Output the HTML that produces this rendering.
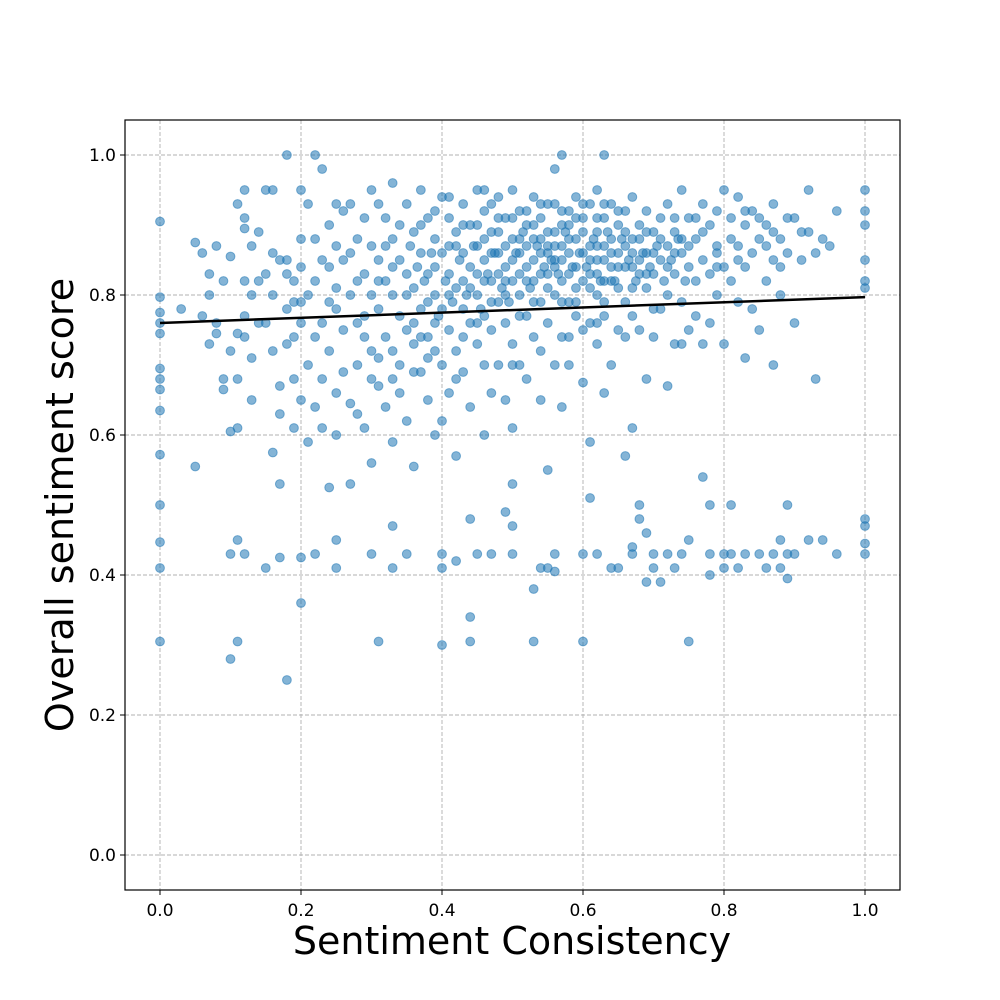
<!DOCTYPE html>
<html><head><meta charset="utf-8"><style>
html,body{margin:0;padding:0;background:#fff;}
svg{display:block;font-family:"DejaVu Sans","Liberation Sans",sans-serif;}
</style></head><body>
<svg id="chart" width="1000" height="1000" viewBox="0 0 1000 1000" xmlns="http://www.w3.org/2000/svg">
<rect width="1000" height="1000" fill="#fff"/>
<g id="grid"></g>
<g id="points"></g>
<g id="fit"></g>
<rect x="125" y="120" width="775" height="770" fill="none" stroke="#000" stroke-width="1.2"/>
<g id="ticks"></g>
<text x="512" y="954" font-size="38" text-anchor="middle">Sentiment Consistency</text>
<text transform="translate(73,505) rotate(-90)" font-size="38" text-anchor="middle">Overall sentiment score</text>
</svg>
<script>
const xTicks = [0, 0.2, 0.4, 0.6, 0.8, 1.0];
const yTicks = [0, 0.2, 0.4, 0.6, 0.8, 1.0];
const xTickLabels = ["0.0","0.2","0.4","0.6","0.8","1.0"];
const yTickLabels = ["0.0","0.2","0.4","0.6","0.8","1.0"];
const fitX = [0, 1];
const fitY = [0.76, 0.797];
const pairs = [
0,.905,0,.797,0,.775,0,.76,0,.745,0,.695,0,.68,0,.665,0,.635,0,.572,0,.5,0,.447,0,.41,0,.305,
.03,.78,.05,.875,.05,.555,.06,.86,.07,.83,.07,.73,.08,.76,.08,.87,.09,.68,.09,.82,.1,.855,.1,.605,.1,.72,.1,.43,.1,.28,.06,.77,.08,.745,.09,.665,.07,.80,
.11,.93,.11,.745,.11,.68,.11,.61,.11,.45,.11,.305,.12,.95,.12,.91,.12,.895,.12,.82,.12,.77,.12,.43,.13,.87,.13,.80,.13,.65,.13,.71,.14,.89,.15,.76,.15,.83,.15,.41,.16,.95,.16,.80,.16,.72,.16,.575,.17,.85,.17,.67,.17,.63,.17,.53,.17,.425,.18,.85,.18,.73,.18,1.0,.18,.25,.19,.82,.19,.79,.19,.68,.19,.61,.2,.95,.2,.88,.2,.84,.2,.76,.2,.65,.2,.425,.2,.36,.14,.82,.15,.95,.18,.78,.19,.74,
.21,.93,.21,.80,.21,.70,.21,.59,.22,1.0,.22,.88,.22,.74,.22,.64,.22,.43,.23,.98,.23,.85,.23,.68,.23,.61,.24,.90,.24,.79,.24,.72,.24,.525,.25,.93,.25,.87,.25,.81,.25,.66,.25,.6,.25,.45,.25,.41,.26,.85,.26,.75,.26,.69,.27,.93,.27,.80,.27,.645,.27,.53,.28,.88,.28,.76,.28,.70,.28,.63,.29,.91,.29,.83,.29,.77,.29,.61,.3,.95,.3,.87,.3,.80,.3,.72,.3,.68,.3,.56,.3,.43,.26,.92,.28,.82,.23,.76,.24,.84,
.31,.93,.31,.85,.31,.78,.31,.71,.31,.305,.32,.91,.32,.82,.32,.74,.32,.64,.33,.96,.33,.88,.33,.80,.33,.72,.33,.68,.33,.59,.33,.47,.33,.41,.34,.85,.34,.77,.34,.70,.35,.93,.35,.83,.35,.75,.35,.62,.35,.43,.36,.89,.36,.81,.36,.73,.36,.555,.37,.95,.37,.86,.37,.78,.37,.69,.38,.91,.38,.83,.38,.74,.38,.65,.39,.88,.39,.80,.39,.72,.39,.60,.4,.94,.4,.86,.4,.78,.4,.70,.4,.62,.4,.43,.4,.41,.4,.30,.32,.87,.34,.90,.36,.76,.38,.79,.39,.84,
.41,.91,.41,.83,.41,.75,.41,.66,.42,.89,.42,.81,.42,.72,.42,.57,.42,.42,.43,.93,.43,.86,.43,.78,.43,.69,.44,.90,.44,.84,.44,.76,.44,.64,.44,.48,.44,.34,.44,.305,.45,.95,.45,.87,.45,.80,.45,.73,.45,.43,.46,.92,.46,.85,.46,.77,.46,.60,.47,.89,.47,.82,.47,.75,.47,.66,.47,.43,.48,.94,.48,.86,.48,.79,.48,.70,.49,.91,.49,.84,.49,.76,.49,.65,.49,.49,.5,.95,.5,.88,.5,.82,.5,.73,.5,.61,.5,.53,.5,.43,.5,.47,.43,.82,.46,.88,.48,.83,.41,.87,.45,.83,.47,.93,.49,.87,
.51,.92,.51,.86,.51,.80,.51,.70,.52,.90,.52,.84,.52,.77,.52,.68,.53,.94,.53,.88,.53,.82,.53,.74,.53,.38,.53,.305,.54,.91,.54,.86,.54,.79,.54,.65,.54,.41,.55,.93,.55,.87,.55,.83,.55,.76,.55,.55,.55,.41,.56,.98,.56,.89,.56,.85,.56,.80,.56,.70,.56,.43,.56,.405,.57,1.0,.57,.92,.57,.87,.57,.82,.57,.74,.57,.64,.58,.90,.58,.86,.58,.79,.58,.70,.59,.94,.59,.88,.59,.84,.59,.77,.6,.91,.6,.86,.6,.82,.6,.75,.6,.675,.6,.43,.6,.305,.52,.87,.54,.83,.56,.87,.58,.83,.51,.83,.53,.85,.55,.89,.57,.85,.59,.81,
.61,.93,.61,.87,.61,.83,.61,.76,.61,.59,.61,.51,.62,.95,.62,.89,.62,.85,.62,.80,.62,.73,.62,.43,.63,.91,.63,.87,.63,.82,.63,.77,.63,.66,.63,1.0,.64,.93,.64,.88,.64,.84,.64,.70,.64,.41,.65,.90,.65,.86,.65,.81,.65,.75,.65,.41,.66,.92,.66,.87,.66,.79,.66,.57,.67,.94,.67,.88,.67,.84,.67,.77,.67,.61,.67,.44,.67,.43,.68,.90,.68,.85,.68,.75,.68,.5,.68,.48,.69,.92,.69,.86,.69,.81,.69,.68,.69,.46,.69,.39,.7,.89,.7,.83,.7,.74,.7,.43,.7,.41,.62,.87,.64,.86,.66,.84,.68,.88,.63,.85,
.71,.91,.71,.85,.71,.78,.71,.39,.72,.93,.72,.87,.72,.80,.72,.67,.72,.43,.73,.89,.73,.83,.73,.73,.73,.41,.74,.95,.74,.86,.74,.79,.74,.43,.75,.91,.75,.84,.75,.75,.75,.45,.75,.305,.76,.88,.76,.82,.76,.77,.77,.93,.77,.85,.77,.73,.77,.54,.78,.90,.78,.83,.78,.5,.78,.43,.78,.40,.79,.87,.79,.80,.79,.92,.8,.95,.8,.84,.8,.73,.8,.43,.8,.41,.73,.86,.76,.91,.79,.84,
.81,.91,.81,.82,.81,.5,.81,.43,.82,.94,.82,.87,.82,.79,.82,.41,.83,.90,.83,.84,.83,.71,.83,.43,.84,.92,.84,.86,.84,.78,.85,.88,.85,.75,.85,.43,.86,.90,.86,.82,.86,.41,.87,.93,.87,.85,.87,.70,.87,.43,.88,.88,.88,.80,.88,.45,.88,.41,.89,.86,.89,.50,.89,.43,.89,.395,.9,.91,.9,.76,.9,.43,.91,.85,.92,.95,.92,.89,.92,.45,.93,.68,.93,.86,.94,.88,.94,.45,.95,.87,.96,.92,.96,.43,1,.95,1,.92,1,.90,1,.85,1,.82,1,.81,1,.48,1,.47,1,.445,1,.43,
.355,.87,.365,.84,.375,.82,.385,.86,.395,.77,.405,.82,.415,.79,.425,.85,.435,.80,.445,.87,.455,.78,.465,.83,.475,.86,.485,.81,.495,.79,.505,.86,.515,.89,.525,.81,.535,.87,.545,.84,.555,.85,.565,.83,.575,.89,.585,.84,.595,.86,.605,.84,.615,.88,.625,.82,.635,.89,.645,.82,.655,.88,.665,.85,.675,.82,.685,.86,.695,.84,.705,.87,.715,.82,.725,.85,.735,.88,.745,.82,
.42,.87,.44,.81,.46,.82,.48,.89,.50,.85,.52,.82,.54,.88,.56,.84,.58,.88,.60,.89,.62,.83,.64,.82,.66,.89,.68,.83,.70,.86,.72,.84,.74,.88,.52,.92,.54,.93,.56,.93,.58,.92,.60,.93,.62,.91,.50,.91,.48,.91,.46,.95,.55,.81,.57,.79,.59,.79,.61,.81,.63,.79,.65,.84,.67,.81,.69,.89,.53,.79,.51,.77,.49,.80,.47,.79,.45,.76,.43,.74,.41,.80,.39,.76,.37,.74,
.31,.82,.33,.84,.35,.80,.37,.90,.39,.92,.41,.94,.43,.90,.45,.90,.47,.86,.49,.82,.51,.88,.53,.90,.55,.86,.57,.90,.59,.91,.61,.85,.63,.93,.65,.92,.67,.86,.69,.83,.71,.88,.73,.91,.75,.87,.77,.89,.79,.86,.81,.88,.83,.92,.85,.91,.87,.89,.89,.91,.91,.89,
.27,.86,.25,.78,.29,.74,.31,.67,.34,.66,.36,.69,.38,.71,.42,.68,.46,.70,.50,.70,.54,.72,.58,.74,.62,.76,.66,.74,.70,.78,.74,.73,.78,.76,.82,.85,.86,.87,.88,.84,.22,.82,.20,.79,.18,.83,.16,.86,.14,.76,.12,.74
];
const xValues = pairs.filter((v,i)=>i%2===0);
const yValues = pairs.filter((v,i)=>i%2===1);

const NS = "http://www.w3.org/2000/svg";
function sx(v){ return 160 + v*705; }
function sy(v){ return 855 - v*700; }
function mk(tag, attrs, parent){ const e=document.createElementNS(NS,tag); for(const k in attrs) e.setAttribute(k,attrs[k]); parent.appendChild(e); return e; }

const grid=document.getElementById('grid'), ticks=document.getElementById('ticks');
xTicks.forEach((t,i)=>{
  const g=mk('line',{x1:sx(t),x2:sx(t),y1:120,y2:890,stroke:'#b0b0b0','stroke-width':0.9,'stroke-dasharray':'4,2'},grid);
  
  
  const tk=mk('line',{x1:sx(t),x2:sx(t),y1:890,y2:895,stroke:'#000'},ticks);
  
  
  const tx=mk('text',{x:sx(t),y:916,'font-size':17,'text-anchor':'middle'},ticks);
  tx.textContent=xTickLabels[i];
  
  
});
yTicks.forEach((t,i)=>{
  const g=mk('line',{x1:125,x2:900,y1:sy(t),y2:sy(t),stroke:'#b0b0b0','stroke-width':0.9,'stroke-dasharray':'4,2'},grid);
  
  
  const tk=mk('line',{x1:120,x2:125,y1:sy(t),y2:sy(t),stroke:'#000'},ticks);
  
  
  const tx=mk('text',{x:116,y:sy(t)+6,'font-size':17,'text-anchor':'end'},ticks);
  tx.textContent=yTickLabels[i];
  
  
});
const pts=document.getElementById('points');
xValues.forEach((x,i)=>{
  const c=mk('circle',{cx:sx(x),cy:sy(yValues[i]),r:4.4,fill:'#1f77b4','fill-opacity':0.55,stroke:'#1f77b4','stroke-opacity':0.55,'stroke-width':1},pts);
  
  
});
const fl=mk('line',{x1:sx(fitX[0]),y1:sy(fitY[0]),x2:sx(fitX[1]),y2:sy(fitY[1]),stroke:'#000','stroke-width':2.5},document.getElementById('fit'));


</script>
</body></html>
